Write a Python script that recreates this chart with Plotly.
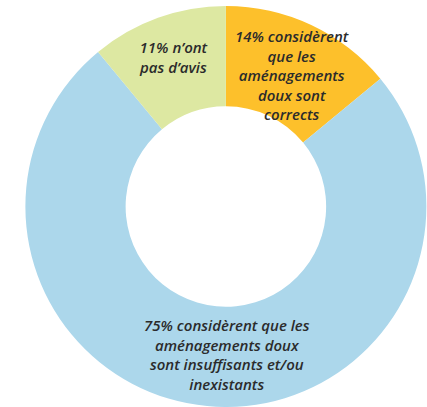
import plotly.graph_objects as go

# Data
categories = ["correct", "insuffisant", "sans avis"]
values = [14, 75, 11]
labels = [
    "14% considèrent<br>que les<br>aménagements<br>doux sont<br>corrects",
    "75% considèrent que les<br>aménagements doux<br>sont insuffisants et/ou<br>inexistants",
    "11% n’ont<br>pas d’avis",
]
colors = ["#FDC02B", "#ACD7EB", "#DDE8A2"]

W, H = 427, 407
T = 6
PH = H - T

def px_to_paper(x, y):
    return x / W, 1 - (y - T) / PH

label_pos = [(292, 75), (227, 354), (173, 57)]

fig = go.Figure(
    go.Pie(
        labels=categories,
        values=values,
        marker=dict(colors=colors, line=dict(width=0)),
        hole=0.5,
        sort=False,
        direction="clockwise",
        rotation=0,
        textinfo="none",
        hoverinfo="label+percent",
        domain=dict(x=[0.058, 1.0], y=[0, 1]),
        showlegend=False,
    )
)

for txt, (x, y) in zip(labels, label_pos):
    ax, ay = px_to_paper(x, y)
    fig.add_annotation(
        x=ax, y=ay, xref="paper", yref="paper",
        text=txt, showarrow=False, align="center",
        xanchor="center", yanchor="middle",
        font=dict(family="Open Sans", size=15, color="#2b2b2b", style="italic", weight=600),
    )

fig.update_layout(
    width=W, height=H,
    margin=dict(l=0, r=0, t=T, b=0, pad=0),
    paper_bgcolor="white",
    plot_bgcolor="white",
)

fig.write_html(
    "out.html",
    config={"displayModeBar": False},
    post_script="document.body.style.margin='0';",
)
